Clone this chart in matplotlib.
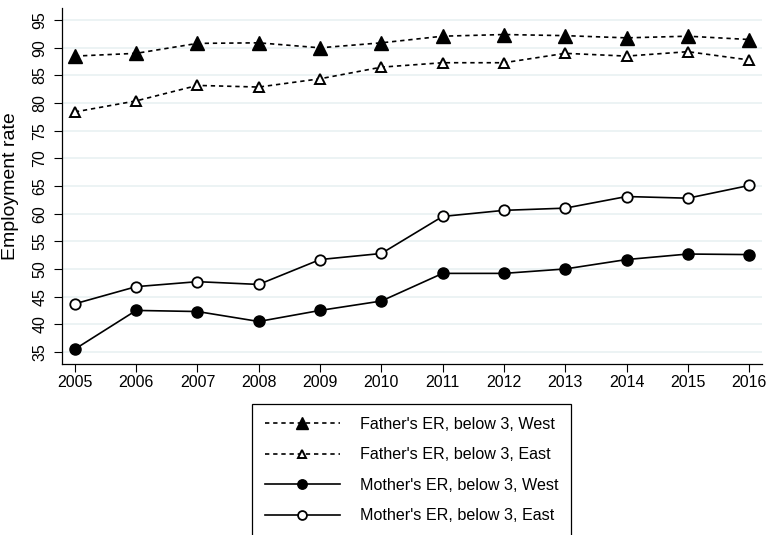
import matplotlib
matplotlib.use("Agg")
import matplotlib.pyplot as plt
import numpy as np

plt.rcParams["font.family"] = ["Liberation Sans", "DejaVu Sans"]

# values
years = [2005, 2006, 2007, 2008, 2009, 2010, 2011, 2012, 2013, 2014, 2015, 2016]
father_west = [88.5, 89.0, 90.8, 90.9, 90.0, 90.9, 92.1, 92.4, 92.2, 91.8, 92.1, 91.5]
father_east = [78.4, 80.4, 83.2, 82.9, 84.4, 86.5, 87.3, 87.3, 89.0, 88.5, 89.3, 87.8]
mother_west = [35.5, 42.5, 42.3, 40.5, 42.5, 44.2, 49.2, 49.2, 50.0, 51.7, 52.7, 52.6]
mother_east = [43.7, 46.8, 47.7, 47.2, 51.7, 52.8, 59.5, 60.6, 61.0, 63.1, 62.8, 65.1]
yticks = list(range(35, 100, 5))

fig = plt.figure(figsize=(7.69, 5.35), dpi=100)
ax = fig.add_axes([62 / 769, 1 - 363.5 / 535, 700 / 769, 355.5 / 535])

dash = (0, (2.6, 2.3))
lw = 1.2
ax.plot(years, father_west, color="black", lw=lw, ls=dash, marker="^", ms=9.5,
        mfc="black", mec="black", label="Father's ER, below 3, West")
ax.plot(years, father_east, color="black", lw=lw, ls=dash, marker="^", ms=7.5,
        mfc="white", mec="black", mew=1.4, label="Father's ER, below 3, East")
ax.plot(years, mother_west, color="black", lw=lw, ls="-", marker="o", ms=8,
        mfc="black", mec="black", label="Mother's ER, below 3, West")
ax.plot(years, mother_east, color="black", lw=lw, ls="-", marker="o", ms=7.5,
        mfc="white", mec="black", mew=1.3, label="Mother's ER, below 3, East")

ax.set_xlim(2004.79, 2016.21)
ax.set_ylim(32.9, 97.2)
ax.set_xticks(years)
ax.set_yticks(yticks)
ax.tick_params(axis="y", labelrotation=90, length=5.5, width=0.8, pad=5, labelsize=11.5)
ax.tick_params(axis="x", length=5.5, width=0.8, pad=3, labelsize=11.5)
for lab in ax.get_yticklabels():
    lab.set_va("center")

ax.grid(axis="y", color="#eaf2f3", lw=1.3)
ax.set_axisbelow(True)
for s in ["top", "right"]:
    ax.spines[s].set_visible(False)
for s in ["left", "bottom"]:
    ax.spines[s].set_linewidth(0.9)

ax.set_ylabel("Employment rate", fontsize=14)
ax.yaxis.set_label_coords(-0.061, 0.5)

leg = fig.legend(loc="upper left", bbox_to_anchor=(252 / 769, 1 - 404 / 535 - 0.01, 319 / 769, 0.01),
                 mode="expand", fontsize=11.6, handlelength=4.66, handletextpad=1.24,
                 labelspacing=0.96, borderpad=0.8, borderaxespad=0, fancybox=False,
                 edgecolor="black", framealpha=1, markerscale=0.85)
leg.get_frame().set_linewidth(0.9)

fig.savefig("out.png", dpi=100)
